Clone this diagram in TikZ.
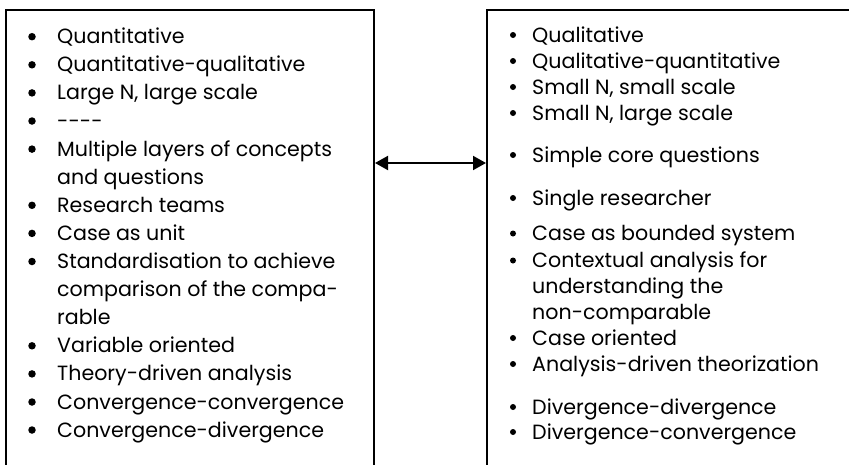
\documentclass[tikz,border=0pt]{standalone}
\usepackage{fontspec}
\setmainfont{Poppins}
\usetikzlibrary{arrows.meta}
\begin{document}
\begin{tikzpicture}[x=1pt,y=-1pt,
  frame/.style={draw,line width=2pt,rectangle,anchor=north west,inner sep=0pt},
  item/.style={anchor=base west,inner sep=0pt,font=\fontsize{20.6}{24}\selectfont},
  lbul/.style={fill,circle,inner sep=0pt,minimum size=7.5pt},
  rbul/.style={fill,circle,inner sep=0pt,minimum size=6pt},
  link/.style={line width=2pt,{Triangle[length=13pt,width=14pt]}-{Triangle[length=13pt,width=14pt]}}]
\useasboundingbox (0,0) rectangle (849,464);
% boxes
\node[frame,minimum width=368pt,minimum height=480pt] (L) at (5,8.5) {};
\node[frame,minimum width=420pt,minimum height=480pt] (R) at (486,8.5) {};
\coordinate (ay) at (0,163);
\draw[link] (L.east |- ay) -- (R.west |- ay);
% left items (bullet centre y; text baseline = y + 7)
\foreach \yy/\nm in {36.7/1,64.8/2,92.9/3,121/4,149.1/5,205.3/6,233.4/7,261.5/8,345.8/9,373.9/10,402/11,430/12}
  \node[lbul] (lb\nm) at (32,\yy) {};
\node[item] (l1) at (57,43.7) {Quantitative};
\node[item] (l2) at (57,71.8) {Quantitative-qualitative};
\node[item] (l3) at (57,99.9) {Large N, large scale};
\node[item] (l4) at (57,128) {-{}-{}-{}-};
\node[item] (l5a) at (57,156.1) {Multiple layers of concepts};
\node[item] (l5b) at (57,184.2) {and questions};
\node[item] (l6) at (57,212.3) {Research teams};
\node[item] (l7) at (57,240.4) {Case as unit};
\node[item] (l8a) at (57,268.5) {Standardisation to achieve};
\node[item] (l8b) at (57,296.6) {comparison of the compa-};
\node[item] (l8c) at (57,324.7) {rable};
\node[item] (l9) at (57,352.8) {Variable oriented};
\node[item] (l10) at (57,380.9) {Theory-driven analysis};
\node[item] (l11) at (57,409) {Convergence-convergence};
\node[item] (l12) at (57,437) {Convergence-divergence};
% right items
\foreach \yy/\nm in {35/1,61/2,87/3,113/4,155/5,198/6,233.5/7,260.5/8,338/9,364/10,407/11,432/12}
  \node[rbul] (rb\nm) at (513,\yy) {};
\node[item] (r1) at (532,42) {Qualitative};
\node[item] (r2) at (532,68) {Qualitative-quantitative};
\node[item] (r3) at (532,94) {Small N, small scale};
\node[item] (r4) at (532,120) {Small N, large scale};
\node[item] (r5) at (532,162) {Simple core questions};
\node[item] (r6) at (532,205) {Single researcher};
\node[item] (r7) at (532,240.5) {Case as bounded system};
\node[item] (r8a) at (532,267.5) {Contextual analysis for};
\node[item] (r8b) at (532,293.5) {understanding the};
\node[item] (r8c) at (532,319.5) {non-comparable};
\node[item] (r9) at (532,345) {Case oriented};
\node[item] (r10) at (532,371) {Analysis-driven theorization};
\node[item] (r11) at (532,414) {Divergence-divergence};
\node[item] (r12) at (532,439) {Divergence-convergence};
\end{tikzpicture}
\end{document}
